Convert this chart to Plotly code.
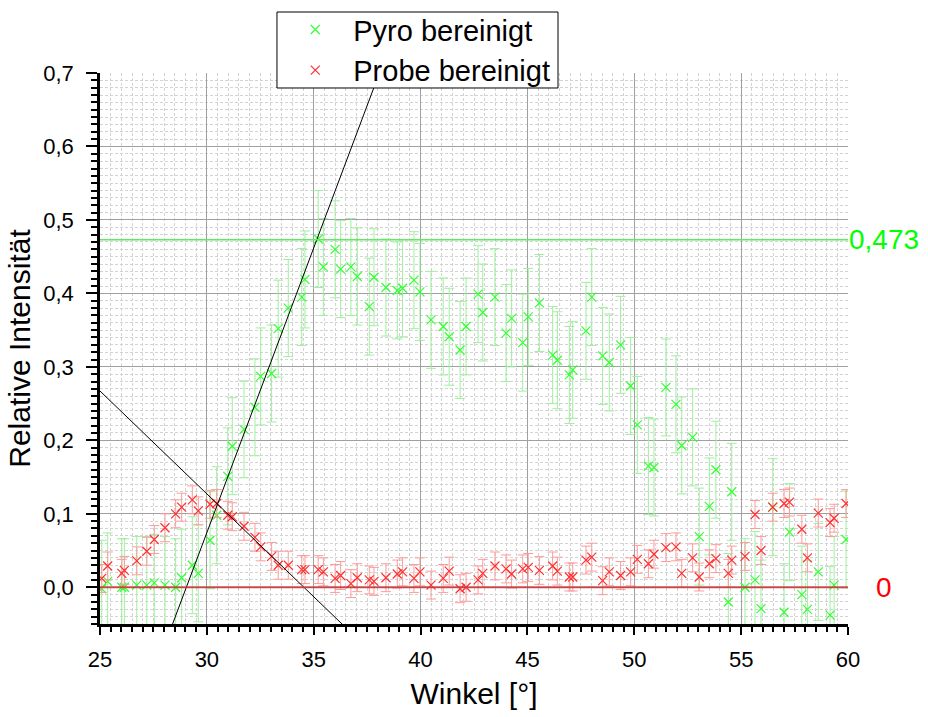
import plotly.graph_objects as go

# Winkel (°) – gemeinsame Messpositionen beider Reihen
winkel = [
    25.08, 25.36, 26.02, 26.14, 26.72, 27.19, 27.54, 28.04, 28.54, 28.82,
    29.32, 29.60, 30.15, 30.46, 30.98, 31.19, 31.74, 32.25, 32.52, 33.03,
    33.34, 33.81, 34.44, 34.59, 35.21, 35.45, 36.00, 36.26, 36.74, 37.04,
    37.60, 37.82, 38.38, 38.91, 39.16, 39.69, 39.97, 40.49, 41.06, 41.34,
    41.85, 42.13, 42.69, 42.91, 43.48, 44.00, 44.26, 44.78, 45.04, 45.56,
    46.18, 46.40, 46.96, 47.12, 47.74, 48.01, 48.52, 48.83, 49.36, 49.83,
    50.14, 50.66, 50.92, 51.48, 51.95, 52.22, 52.73, 53.04, 53.51, 53.82,
    54.40, 54.56, 55.18, 55.65, 55.93, 56.48, 57.01, 57.26, 57.84, 58.10,
    58.61, 59.16, 59.35, 59.91,
]

pyro = [
    -0.002, 0.008, 0.000, 0.000, 0.003, 0.003, 0.006, 0.003, 0.000, 0.013,
    0.030, 0.019, 0.064, 0.098, 0.151, 0.192, 0.215, 0.245, 0.287, 0.291,
    0.352, 0.380, 0.395, 0.419, 0.474, 0.436, 0.460, 0.433, 0.436, 0.423,
    0.382, 0.422, 0.408, 0.404, 0.407, 0.418, 0.402, 0.364, 0.355, 0.341,
    0.323, 0.355, 0.399, 0.374, 0.395, 0.346, 0.366, 0.333, 0.368, 0.387,
    0.316, 0.309, 0.289, 0.296, 0.349, 0.395, 0.315, 0.306, 0.330, 0.274,
    0.221, 0.165, 0.163, 0.272, 0.249, 0.193, 0.204, 0.069, 0.110, 0.160,
    -0.020, 0.130, 0.000, 0.010, -0.029, 0.109, -0.034, 0.075, -0.010, -0.030,
    0.021, -0.038, 0.003, 0.065,
]

probe = [
    0.012, 0.029, 0.019, 0.023, 0.036, 0.049, 0.065, 0.081, 0.100, 0.109,
    0.119, 0.104, 0.113, 0.114, 0.098, 0.096, 0.083, 0.068, 0.055, 0.042,
    0.030, 0.030, 0.024, 0.024, 0.024, 0.021, 0.012, 0.016, 0.005, 0.013,
    0.010, 0.008, 0.013, 0.018, 0.021, 0.012, 0.021, 0.003, 0.012, 0.022,
    -0.002, 0.000, 0.010, 0.019, 0.029, 0.025, 0.018, 0.025, 0.027, 0.023,
    0.029, 0.022, 0.014, 0.014, 0.037, 0.041, 0.009, 0.021, 0.016, 0.021,
    0.038, 0.032, 0.045, 0.054, 0.055, 0.019, 0.040, 0.014, 0.032, 0.039,
    0.019, 0.037, 0.042, 0.099, 0.050, 0.109, 0.114, 0.116, 0.079, 0.040,
    0.101, 0.088, 0.094, 0.114,
]

pyro_fehler = 0.066
probe_fehler = 0.019

# Tangenten: Steigung und Nullstelle (Winkel bei y = 0)
tangente_steigung = [0.0775, -0.0280]
tangente_nullstelle = [29.04, 34.54]

# Referenzniveaus
niveau_pyro = 0.473
niveau_probe = 0.0

x_bereich = [25, 60]
y_bereich = [-0.05, 0.7]

fig = go.Figure()

fig.add_trace(go.Scatter(
    x=winkel, y=pyro, mode="markers", name="Pyro bereinigt",
    marker=dict(symbol="x-thin", size=9, color="#33ff33",
                line=dict(width=1.2, color="#33ff33")),
    error_y=dict(type="constant", value=pyro_fehler, color="#9ef09e",
                 thickness=1, width=5),
))
fig.add_trace(go.Scatter(
    x=winkel, y=probe, mode="markers", name="Probe bereinigt",
    marker=dict(symbol="x-thin", size=9, color="#ff3030",
                line=dict(width=1.2, color="#ff3030")),
    error_y=dict(type="constant", value=probe_fehler, color="#ff9a9a",
                 thickness=1, width=5),
))

# Tangenten über den ganzen Winkelbereich
for m, x0 in zip(tangente_steigung, tangente_nullstelle):
    fig.add_trace(go.Scatter(
        x=x_bereich, y=[m * (xv - x0) for xv in x_bereich],
        mode="lines", line=dict(color="black", width=1),
        showlegend=False, hoverinfo="skip",
    ))

# Horizontale Niveaus
fig.add_trace(go.Scatter(
    x=x_bereich, y=[niveau_pyro] * 2, mode="lines",
    line=dict(color="#5fea5f", width=1.5), showlegend=False, hoverinfo="skip",
))
fig.add_trace(go.Scatter(
    x=x_bereich, y=[niveau_probe] * 2, mode="lines",
    line=dict(color="rgba(200,60,60,0.9)", width=2), showlegend=False,
    hoverinfo="skip",
))

fig.add_annotation(x=1, xref="paper", y=niveau_pyro, yref="y",
                   text="0,473", showarrow=False, xanchor="left",
                   xshift=-1, font=dict(size=28, color="#00ff00"))
fig.add_annotation(x=1, xref="paper", y=niveau_probe, yref="y",
                   text="0", showarrow=False, xanchor="left",
                   xshift=26, font=dict(size=28, color="#ff0000"))

# Rahmen der Legende (weiß hinterlegt, verdeckt die Tangente)
fig.add_shape(type="rect", xref="paper", yref="paper",
              x0=0.2366, x1=0.6123, y0=0.9728, y1=1.1107,
              line=dict(color="black", width=1), fillcolor="white",
              layer="above")

achse = dict(
    showline=True, linecolor="black", linewidth=2.5,
    ticks="outside", tickwidth=2, tickcolor="black",
    showgrid=True, gridcolor="#a0a0a0", gridwidth=1,
    zeroline=False, mirror=False,
    title_font=dict(size=30, color="black"),
)

fig.update_xaxes(
    **achse, range=x_bereich, dtick=5, tick0=25, ticklen=8,
    tickfont=dict(size=22, color="black"),
    title_text="Winkel [°]", title_standoff=12, ticklabelstandoff=6,
    minor=dict(dtick=0.5, ticks="outside", ticklen=5, tickwidth=2,
               tickcolor="black", showgrid=True, gridcolor="#d3d3d3",
               griddash="3px,2px", gridwidth=1),
)
fig.update_yaxes(
    **achse, range=y_bereich, dtick=0.1, tick0=0, tickformat=".1f",
    ticklen=11, tickfont=dict(size=22, color="black"),
    title_text="Relative Intensität", title_standoff=4, ticklabelstandoff=8,
    minor=dict(dtick=0.01, ticks="outside", ticklen=6, tickwidth=2,
               tickcolor="black", showgrid=True, gridcolor="#d3d3d3",
               griddash="3px,2px", gridwidth=1),
)

fig.update_layout(
    width=928, height=717,
    margin=dict(l=100, r=80, t=73, b=93, autoexpand=False),
    paper_bgcolor="white", plot_bgcolor="white",
    separators=",.",
    font=dict(family="Arial, Liberation Sans, sans-serif", color="black"),
    showlegend=True,
    legend=dict(
        x=0.237, y=1.125, xanchor="left", yanchor="top",
        bgcolor="rgba(0,0,0,0)", borderwidth=0,
        font=dict(size=29, color="black"), itemwidth=66,
        tracegroupgap=0,
    ),
)

fig.write_html("out.html")
